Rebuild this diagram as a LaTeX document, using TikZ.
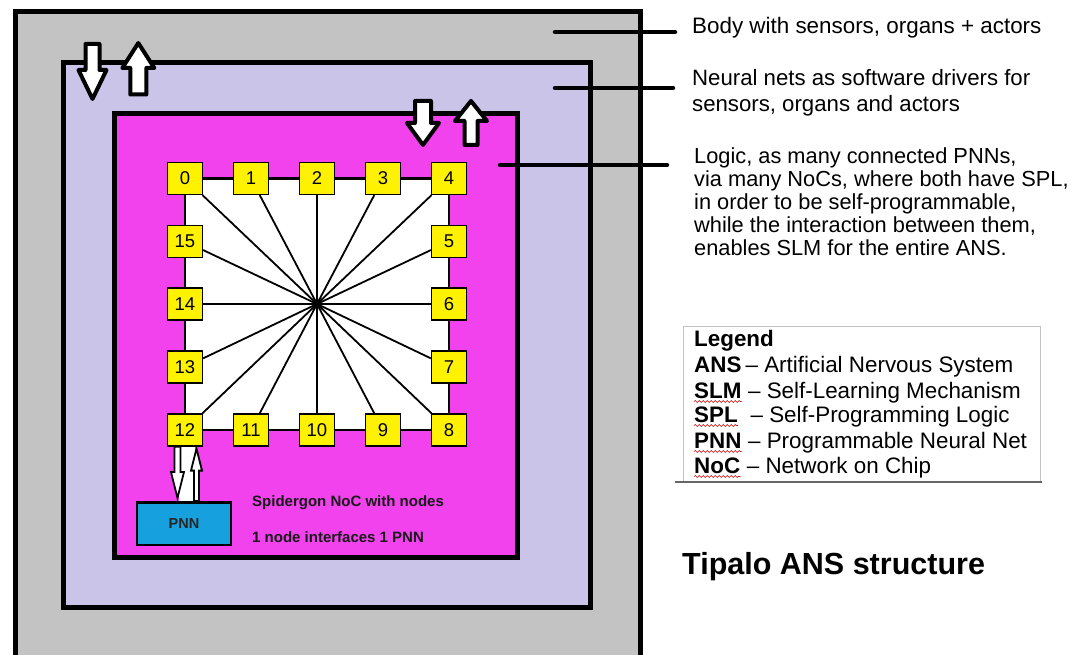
\documentclass[tikz,border=0pt]{standalone}
\usepackage{fontspec}
\setmainfont{Liberation Sans}
\usetikzlibrary{calc,decorations.pathmorphing}
\definecolor{bodygray}{RGB}{195,195,195}
\definecolor{lav}{RGB}{201,196,232}
\definecolor{mag}{RGB}{242,66,238}
\definecolor{ylw}{RGB}{255,242,0}
\definecolor{pnnblue}{RGB}{22,160,222}
\definecolor{legline}{RGB}{195,195,195}
\pgfdeclarelayer{back}
\pgfdeclarelayer{lines}
\pgfsetlayers{back,lines,main}
\newcommand\blkarrow[6]{%
  \draw[#1] let \p1=#2, \p2=#3 in
    ({\x1-#4pt},\y1) -- ({\x1-#4pt},{\y2-#6pt*sign(\y2-\y1)})
    -- ({\x1-#5pt},{\y2-#6pt*sign(\y2-\y1)}) -- (\x1,\y2)
    -- ({\x1+#5pt},{\y2-#6pt*sign(\y2-\y1)}) -- ({\x1+#4pt},{\y2-#6pt*sign(\y2-\y1)})
    -- ({\x1+#4pt},\y1) -- cycle;}
\begin{document}
\begin{tikzpicture}[x=1pt,y=-1pt,
  frame/.style={line width=5pt},
  noc/.style={draw, line width=1.2pt, fill=ylw, minimum width=35pt, minimum height=32pt,
    inner sep=0pt, font=\fontsize{18.5}{20}\selectfont},
  ring/.style={line width=2.5pt},
  spoke/.style={line width=1.8pt},
  leader/.style={line width=4.5pt, line cap=round},
  txt/.style={inner sep=0pt, anchor=base west, align=left, font=\fontsize{22.4}{23}\selectfont},
  legfont/.style={font=\fontsize{22.4}{23}\selectfont},
  legbold/.style={font=\bfseries\fontsize{22.4}{23}\selectfont},
  leg/.style={inner sep=0pt, anchor=base west, legfont},
  bigarrow/.style={draw=black, fill=white, line width=4pt, line join=round},
  smallarrow/.style={draw=black, fill=white, line width=1.8pt},
  squig/.style={red!80!black, line width=0.6pt, decorate,
    decoration={snake, amplitude=0.9pt, segment length=4pt}}]
\useasboundingbox (0,0) rectangle (1072,655);

\begin{pgfonlayer}{back}
  % body
  \fill[bodygray] (15.5,12) rectangle (640.5,658);
  \draw[frame] (15.5,658) -- (15.5,12) -- (640.5,12) -- (640.5,658);
  % neural nets drivers
  \filldraw[fill=lav, frame] (63.5,62.5) rectangle (590.5,607.5);
  % logic
  \filldraw[fill=mag, frame] (114.5,113.5) rectangle (517,557.5);
  % NoC interior
  \fill[white] (185,178.5) rectangle (449,430);
\end{pgfonlayer}

% NoC nodes
\node[noc] (n0)  at (185,178.5) {0};
\node[noc] (n1)  at (251,178.5) {1};
\node[noc] (n2)  at (317,178.5) {2};
\node[noc] (n3)  at (383,178.5) {3};
\node[noc] (n4)  at (449,178.5) {4};
\node[noc] (n5)  at (449,241.5) {5};
\node[noc] (n6)  at (449,304)   {6};
\node[noc] (n7)  at (449,367)   {7};
\node[noc] (n8)  at (449,430)   {8};
\node[noc] (n9)  at (383,430)   {9};
\node[noc] (n10) at (317,430)   {10};
\node[noc] (n11) at (251,430)   {11};
\node[noc] (n12) at (185,430)   {12};
\node[noc] (n13) at (185,367)   {13};
\node[noc] (n14) at (185,304)   {14};
\node[noc] (n15) at (185,241.5) {15};
\coordinate (hub) at (317,304);

\begin{pgfonlayer}{lines}
  \draw[ring] (n0) -- (n1) -- (n2) -- (n3) -- (n4) -- (n5) -- (n6) -- (n7) -- (n8)
    -- (n9) -- (n10) -- (n11) -- (n12) -- (n13) -- (n14) -- (n15) -- (n0);
  \foreach \i in {0,...,15} \draw[spoke] (hub) -- (n\i);
\end{pgfonlayer}

% PNN
\node[draw, line width=2.5pt, fill=pnnblue, minimum width=94pt, minimum height=42.5pt,
  inner sep=0pt, text=black!85, font=\bfseries\fontsize{14.5}{16}\selectfont] (pnn) at (184,523.5) {PNN};
\fill[white] ([xshift=-6pt]n12.south) rectangle ($(n12.south |- pnn.north)+(10,0)$);
\blkarrow{smallarrow}{([xshift=-7.5pt]n12.south)}{($(n12.south |- pnn.north)+(-7.5,-3)$)}{3}{6.5}{26}
\blkarrow{smallarrow}{($(n12.south |- pnn.north)+(11.5,0)$)}{([xshift=11.5pt,yshift=-2pt]n12.south)}{2.5}{5.5}{22}

\node[txt, font=\bfseries\fontsize{15}{16}\selectfont, text=black!90] (spi) at (252,506.5) {Spidergon NoC with nodes};
\node[txt, font=\bfseries\fontsize{15}{16}\selectfont, text=black!90] (one) at (252,542.5) {1 node interfaces 1 PNN};

% big hollow arrows
\blkarrow{bigarrow}{(92.5,44)}{(92.5,99)}{7}{14}{29}
\blkarrow{bigarrow}{(138.3,94.5)}{(138.3,43)}{8}{16}{25}
\blkarrow{bigarrow}{(423,101)}{(423,145)}{8}{16}{22}
\blkarrow{bigarrow}{(471,145)}{(471,101)}{6.5}{16}{20}

% right texts (base anchor = baseline of the last line)
\node[txt] (body) at (692,34) {Body with sensors, organs + actors};
\node[txt, font=\fontsize{22.2}{26}\selectfont] (neural) at (692,112) {Neural nets as software drivers for\\sensors, organs and actors};
\node[txt, font=\fontsize{21.8}{23}\selectfont] (logic) at (694,256) {Logic, as many connected PNNs,\\via many NoCs, where both have SPL,\\in order to be self-programmable,\\while the interaction between them,\\enables SLM for the entire ANS.};

\coordinate (s1) at (555,32);
\coordinate (s2) at (555,88);
\coordinate (s3) at (500,165);
\draw[leader, shorten >=17pt] (s1) -- (s1 -| body.west);
\draw[leader, shorten >=19pt] (s2) -- (s2 -| neural.west);
\draw[leader, shorten >=27pt] (s3) -- (s3 -| logic.west);

% legend
\draw[legline, line width=1pt] (683,482) -- (683,327) -- (1040,327) -- (1040,482);
\draw[black!60, line width=1.3pt] (675,482) -- (1042,482);
\node[leg, legbold] (legT) at (694,347) {Legend};
\node[leg, legbold] (aANS) at (694,373) {ANS};
\node[leg] (dANS) at (aANS.base east) {\,– Artificial Nervous System};
\node[leg, legbold] (aSLM) at (694,398) {SLM};
\node[leg] (dSLM) at (aSLM.base east) {\ – Self-Learning Mechanism};
\node[leg, legbold] (aSPL) at (694,422) {SPL};
\node[leg] (dSPL) at (aSPL.base east) {\ \ – Self-Programming Logic};
\node[leg, legbold] (aPNN) at (694,448) {PNN};
\node[leg] (dPNN) at (aPNN.base east) {\ – Programmable Neural Net};
\node[leg, legbold] (aNoC) at (694,473) {NoC};
\node[leg] (dNoC) at (aNoC.base east) {\ – Network on Chip};
\foreach \a in {aSLM,aSPL,aPNN,aNoC}
  \draw[squig] ([yshift=-3.5pt]\a.base west) -- ([yshift=-3.5pt]\a.base east);

% title
\node[txt, font=\bfseries\fontsize{30.5}{32}\selectfont] (title) at (682,574) {Tipalo ANS structure};
\end{tikzpicture}
\end{document}
